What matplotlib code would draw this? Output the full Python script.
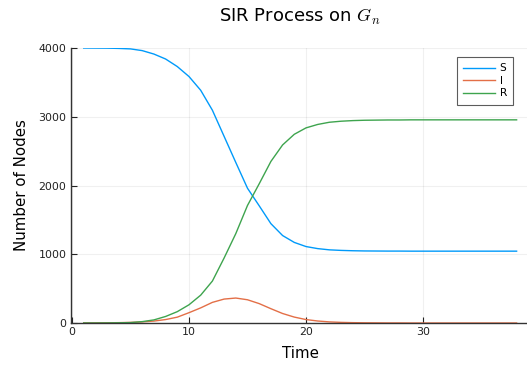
import matplotlib
matplotlib.use("Agg")
import matplotlib.pyplot as plt

plt.rcParams["mathtext.fontset"] = "cm"

# SIR compartment sizes over time
time = list(range(1, 39))
susceptible = [4000, 3999, 3998, 3994, 3987, 3962, 3912, 3840, 3730, 3585,
               3385, 3095, 2715, 2335, 1960, 1705, 1445, 1272, 1172, 1112,
               1082, 1064, 1056, 1051, 1048, 1047, 1046, 1046, 1045, 1045,
               1045, 1045, 1045, 1045, 1045, 1045, 1045, 1045]
infected = [1, 2, 3, 5, 9, 16, 28, 50, 85, 150,
            220, 300, 348, 363, 338, 282, 208, 138, 86, 50,
            29, 16, 9, 5, 3, 2, 1, 1, 0, 0,
            0, 0, 0, 0, 0, 0, 0, 0]
recovered = [0, 0, 1, 3, 6, 20, 45, 95, 165, 265,
             405, 610, 945, 1300, 1710, 2025, 2350, 2590, 2745, 2838,
             2888, 2920, 2935, 2944, 2949, 2951, 2953, 2953, 2955, 2955,
             2955, 2955, 2955, 2955, 2955, 2955, 2955, 2955]

series = [("S", susceptible, "#009AFA"),
          ("I", infected, "#E36F47"),
          ("R", recovered, "#3EA44E")]

W, H = 527, 365
fig = plt.figure(figsize=(W / 100, H / 100), dpi=100)
ax_left, ax_right, ax_top, ax_bottom = 70.7, 529.6, 48, 323
ax = fig.add_axes([ax_left / W, 1 - ax_bottom / H,
                   (ax_right - ax_left) / W, (ax_bottom - ax_top) / H])

for name, vals, col in series:
    ax.plot(time, vals, color=col, lw=1.0, label=name)

ax.set_xlim(-0.11, 39.11)
ax.set_ylim(0, 4000)
ax.set_xticks([0, 10, 20, 30])
ax.set_yticks([0, 1000, 2000, 3000, 4000])
ax.grid(True, color="black", alpha=0.06, lw=0.8)
ax.set_axisbelow(True)

for s in ("top", "right"):
    ax.spines[s].set_visible(False)
for s in ("left", "bottom"):
    ax.spines[s].set_color("#333333")
    ax.spines[s].set_linewidth(1.0)
ax.tick_params(direction="in", length=4, width=0.8, colors="#222222",
               labelsize=7.9, pad=3)

ax.set_title("SIR Process on $G_n$", fontsize=13, pad=19)
ax.set_xlabel("Time", fontsize=10.8, labelpad=6)
ax.set_ylabel("Number of Nodes", fontsize=10.8, labelpad=7)

leg = ax.legend(loc="upper left", bbox_to_anchor=(457 / W, 1 - 57 / H),
                bbox_transform=fig.transFigure, fontsize=7.6, frameon=True,
                fancybox=False, borderaxespad=0, handlelength=3.0,
                handletextpad=0.45, borderpad=0.6, labelspacing=0.24)
leg.get_frame().set_edgecolor("#333333")
leg.get_frame().set_linewidth(0.8)

fig.savefig("out.png", dpi=100)
